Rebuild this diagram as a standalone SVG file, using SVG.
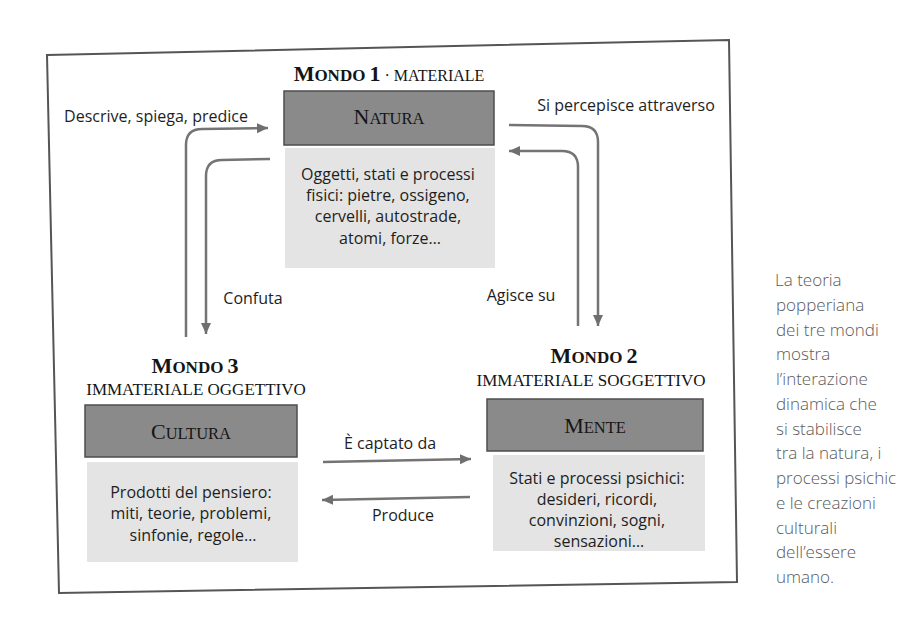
<svg xmlns="http://www.w3.org/2000/svg" width="900" height="621" viewBox="0 0 900 621">
<defs>
<marker id="ah" markerUnits="userSpaceOnUse" markerWidth="12" markerHeight="12" refX="11" refY="6" orient="auto">
<path d="M0,1 L11,6 L0,11 z" fill="#6f6f6f"/>
</marker>
<style>
.frame{fill:none;stroke:#555;stroke-width:2}
.hdr{fill:#8a8a8a;stroke:#4d4d4d;stroke-width:1.5}
.body{fill:#e4e4e4}
.conn{fill:none;stroke:#747474;stroke-width:2.5;marker-end:url(#ah)}
.sans{font-family:"Open Sans","Noto Sans",sans-serif;font-size:16px;fill:#1e1e1e}
.ser{font-family:"Liberation Serif",serif;fill:#151515}
.big{font-size:22px}
.sm{font-size:17px}
.side{font-family:"Open Sans","Noto Sans",sans-serif;font-size:17px;fill:#5a5a5a;font-weight:300}
</style>
</defs>
<rect width="900" height="621" fill="#ffffff"/>
<polygon class="frame" points="47,55 729,40 737,582 59,593"/>

<g id="connectors">
<path class="conn" d="M186,337 L186,145 Q186,129 202,129 L268,128"/>
<path class="conn" d="M270,159 L222,160 Q206,160 206,176 L206,334"/>
<path class="conn" d="M509,125 L582,126 Q598,126 598,142 L598,326"/>
<path class="conn" d="M578,326 L578,167 Q578,151 562,151 L509,151"/>
<path class="conn" d="M323,462 L471,459"/>
<path class="conn" d="M470,497 L322,500"/>
<text class="sans" x="156" y="122" text-anchor="middle">Descrive, spiega, predice</text>
<text class="sans" x="253" y="304" text-anchor="middle">Confuta</text>
<text class="sans" x="626" y="111" text-anchor="middle">Si percepisce attraverso</text>
<text class="sans" x="521" y="301" text-anchor="middle">Agisce su</text>
<text class="sans" x="390" y="449" text-anchor="middle">È captato da</text>
<text class="sans" x="403" y="521" text-anchor="middle">Produce</text>
</g>

<g id="mondo1">
<text class="ser" x="389" y="81" text-anchor="middle" font-weight="bold"><tspan class="big">M</tspan><tspan class="sm">ONDO</tspan> <tspan class="big">1</tspan><tspan font-weight="normal" font-size="16px"> · MATERIALE</tspan></text>
<rect class="hdr" x="284" y="91" width="210" height="54"/>
<text class="ser" x="389" y="124" text-anchor="middle"><tspan font-size="22px">N</tspan><tspan font-size="16.5px">ATURA</tspan></text>
<rect class="body" x="285" y="148" width="210" height="120"/>
<text class="sans" text-anchor="middle">
<tspan x="390" y="180">Oggetti, stati e processi</tspan>
<tspan x="390" y="201">fisici: pietre, ossigeno,</tspan>
<tspan x="390" y="222">cervelli, autostrade,</tspan>
<tspan x="390" y="244">atomi, forze…</tspan>
</text>
</g>

<g id="mondo3">
<text class="ser" x="195" y="373" text-anchor="middle" font-weight="bold"><tspan class="big">M</tspan><tspan class="sm">ONDO</tspan> <tspan class="big">3</tspan></text>
<text class="ser" x="196" y="395" text-anchor="middle" font-size="17px">IMMATERIALE OGGETTIVO</text>
<rect class="hdr" x="85" y="405" width="212" height="52"/>
<text class="ser" x="191" y="439" text-anchor="middle"><tspan font-size="22px">C</tspan><tspan font-size="16.5px">ULTURA</tspan></text>
<rect class="body" x="87" y="462" width="211" height="100"/>
<text class="sans" text-anchor="middle">
<tspan x="193" y="498">Prodotti del pensiero:</tspan>
<tspan x="193" y="519">miti, teorie, problemi,</tspan>
<tspan x="193" y="541">sinfonie, regole…</tspan>
</text>
</g>

<g id="mondo2">
<text class="ser" x="594" y="363" text-anchor="middle" font-weight="bold"><tspan class="big">M</tspan><tspan class="sm">ONDO</tspan> <tspan class="big">2</tspan></text>
<text class="ser" x="591" y="386" text-anchor="middle" font-size="17px">IMMATERIALE SOGGETTIVO</text>
<rect class="hdr" x="487" y="399" width="216" height="52"/>
<text class="ser" x="595" y="433" text-anchor="middle"><tspan font-size="22px">M</tspan><tspan font-size="16.5px">ENTE</tspan></text>
<rect class="body" x="493" y="455" width="212" height="96"/>
<text class="sans" text-anchor="middle">
<tspan x="599" y="484">Stati e processi psichici:</tspan>
<tspan x="599" y="505">desideri, ricordi,</tspan>
<tspan x="599" y="526">convinzioni, sogni,</tspan>
<tspan x="599" y="547">sensazioni…</tspan>
</text>
</g>

<g id="caption">
<text class="side">
<tspan x="775" y="286">La teoria</tspan>
<tspan x="776" y="311">popperiana</tspan>
<tspan x="776" y="336">dei tre mondi</tspan>
<tspan x="776" y="360">mostra</tspan>
<tspan x="776" y="385">l’interazione</tspan>
<tspan x="776" y="410">dinamica che</tspan>
<tspan x="776" y="435">si stabilisce</tspan>
<tspan x="776" y="459">tra la natura, i</tspan>
<tspan x="776" y="484">processi psichic</tspan>
<tspan x="776" y="509">e le creazioni</tspan>
<tspan x="776" y="534">culturali</tspan>
<tspan x="776" y="558">dell’essere</tspan>
<tspan x="776" y="583">umano.</tspan>
</text>
</g>
</svg>
